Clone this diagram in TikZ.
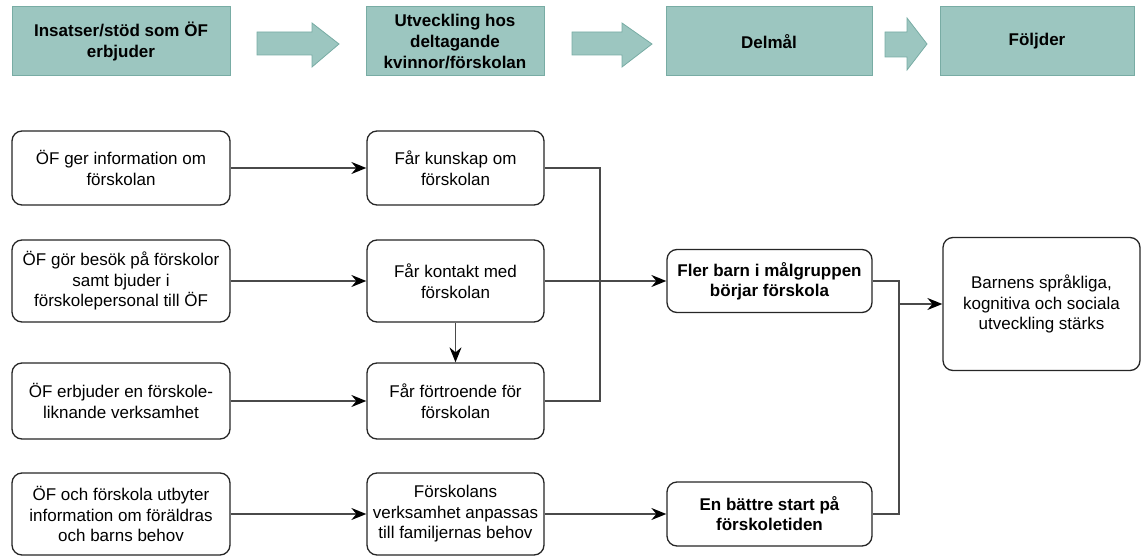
\documentclass[tikz,border=0pt]{standalone}
\usepackage{fontspec}
\setmainfont{Liberation Sans}
\usepackage{tikz}
\usetikzlibrary{positioning, calc, arrows.meta}
\definecolor{hdrfill}{HTML}{9CC6C0}
\definecolor{hdrline}{HTML}{78ACA4}
\definecolor{wirecol}{HTML}{4A4A4A}

\begin{document}
\begin{tikzpicture}[x=1pt, y=-1pt,
        every node/.style={font=\fontsize{17}{20.5}\selectfont, align=center, inner sep=0pt},
        hdr/.style={draw=hdrline, fill=hdrfill, line width=1pt, minimum height=69pt,
            font=\fontsize{17}{21}\selectfont\bfseries},
        box/.style={draw=black!85, fill=white, rounded corners=10pt, line width=1.3pt},
        insats/.style={box, minimum width=218pt},
        utv/.style={box, minimum width=177pt},
        goal/.style={box, minimum width=205pt, font=\fontsize{17}{20}\selectfont\bfseries},
        wire/.style={draw=wirecol, line width=1.4pt},
        conn/.style={wire, -{Stealth[length=15pt, width=12pt, inset=5pt, color=black]}},
        bigarrow/.style={fill=hdrfill, draw=hdrline, line width=0.8pt}]
            \useasboundingbox (0,0) rectangle (1146,556);

            \node[hdr, minimum width=218pt] (h1) at (121,41.5) {Insatser/stöd som ÖF\\erbjuder};
            \node[hdr, minimum width=178pt] (h2) at (455,41.5) {Utveckling hos\\deltagande\\kvinnor/förskolan};
            \node[hdr, minimum width=206pt] (h3) at (769,41.5) {Delmål};
            \node[hdr, minimum width=194pt] (h4) at (1037,41.5) {Följder};

            \filldraw[bigarrow] (257,32) -- (312,32) -- (312,23) -- (339,44) -- (312,67) -- (312,55) -- (257,55) -- cycle;
            \filldraw[bigarrow] (572,32) -- (622,32) -- (622,23) -- (652,44) -- (622,67) -- (622,55) -- (572,55) -- cycle;
            \filldraw[bigarrow] (885,32) -- (907,32) -- (907,18) -- (927,44) -- (907,70) -- (907,57) -- (885,57) -- cycle;

            \node[insats, minimum height=74pt] (a1) at (121,168) {ÖF ger information om\\förskolan};
            \node[insats, minimum height=82pt] (a2) at (121,281) {ÖF gör besök på förskolor\\samt bjuder i\\förskolepersonal till ÖF};
            \node[insats, minimum height=76pt] (a3) at (121,401) {ÖF erbjuder en förskole-\\liknande verksamhet};
            \node[insats, minimum height=82pt] (a4) at (121,514) {ÖF och förskola utbyter\\information om föräldras\\och barns behov};

            \node[utv, minimum height=74pt] (b1) at (455.5,168) {Får kunskap om\\förskolan};
            \node[utv, minimum height=82pt] (b2) at (455.5,281) {Får kontakt med\\förskolan};
            \node[utv, minimum height=76pt] (b3) at (455.5,401) {Får förtroende för\\förskolan};
            \node[utv, minimum height=82pt] (b4) at (455.5,514) {Förskolans\\verksamhet anpassas\\till familjernas behov};

            \node[goal, minimum height=63pt] (d1) at (769.5,281) {Fler barn i målgruppen\\börjar förskola};
            \node[goal, minimum height=64pt] (d2) at (769.5,514) {En bättre start på\\förskoletiden};

            \node[box, minimum width=197pt, minimum height=133pt] (e1) at (1041.5,304) {Barnens språkliga,\\kognitiva och sociala\\utveckling stärks};

            \draw[conn] (a1) -- (b1);
            \draw[conn] (a2) -- (b2);
            \draw[conn] (a3) -- (b3);
            \draw[conn] (a4) -- (b4);
            \draw[conn] (b2) -- (b3);

            \coordinate (bus1) at (600,281);
            \draw[wire] (b1) -| (bus1);
            \draw[wire] (b3) -| (bus1);
            \draw[conn] (b2) -- (d1);
            \draw[conn] (b4) -- (d2);

            \coordinate (bus2) at (899,304);
            \draw[wire] (d1) -| (bus2);
            \draw[wire] (d2) -| (bus2);
            \draw[conn] (bus2) -- (e1);
        \end{tikzpicture}
\end{document}
